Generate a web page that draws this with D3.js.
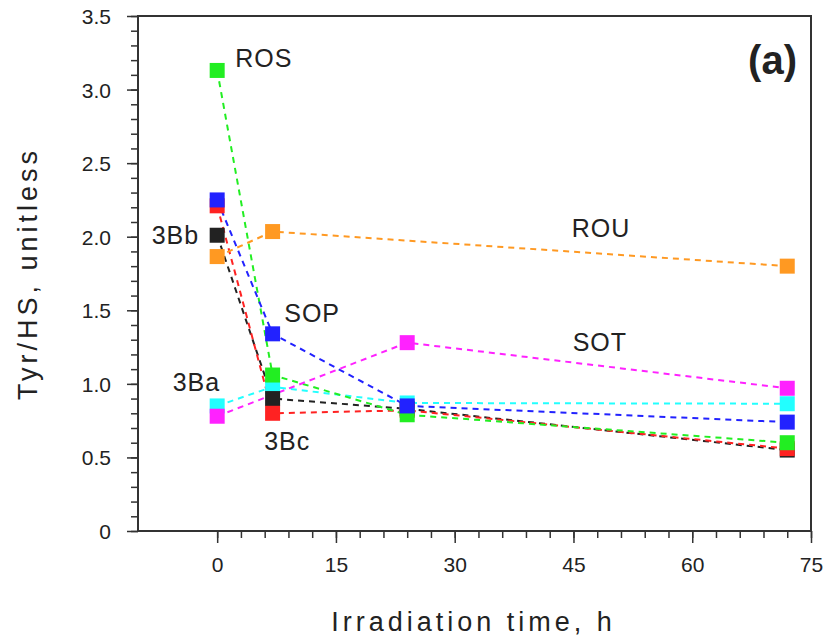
<!DOCTYPE html>
<html>
<head>
<meta charset="utf-8">
<script src="https://cdn.jsdelivr.net/npm/d3@7"></script>
<style>
  body { margin: 0; background: #fff; }
  svg { display: block; }
  text { font-family: "Liberation Sans", Arial, sans-serif; fill: #222; }
</style>
</head>
<body>
<svg id="chart" width="827" height="643"></svg>
<script>
// ---- data ----
const seriesNames = ["3Ba", "3Bb", "3Bc", "ROS", "SOP", "SOT", "ROU"];
const seriesColors = ["#22ffff", "#222222", "#ff2222", "#22ee22", "#2222ff", "#ff22ff", "#ff9922"];
const times_3Ba = [0, 7, 24, 72];
const vals_3Ba  = [0.85, 0.98, 0.87, 0.865];
const times_3Bb = [0, 7, 24, 72];
const vals_3Bb  = [2.01, 0.90, 0.83, 0.55];
const times_3Bc = [0, 7, 24, 72];
const vals_3Bc  = [2.21, 0.80, 0.82, 0.56];
const times_ROS = [0, 7, 24, 72];
const vals_ROS  = [3.13, 1.06, 0.79, 0.60];
const times_SOP = [0, 7, 24, 72];
const vals_SOP  = [2.25, 1.34, 0.85, 0.74];
const times_SOT = [0, 24, 72];
const vals_SOT  = [0.78, 1.28, 0.97];
const times_ROU = [0, 7, 72];
const vals_ROU  = [1.865, 2.035, 1.80];

const xTicks = [0, 15, 30, 45, 60, 75];
const yTicks = [0, 0.5, 1.0, 1.5, 2.0, 2.5, 3.0, 3.5];
const yTickLabels = ["0", "0.5", "1.0", "1.5", "2.0", "2.5", "3.0", "3.5"];

const labelTexts = ["ROS", "3Bb", "SOP", "3Ba", "3Bc", "ROU", "SOT"];
const labelX = [2.28, -2.28, 8.47, 0.38, 5.94, 44.78, 44.9];
const labelY = [3.215, 2.012, 1.482, 1.013, 0.612, 2.06, 1.285];
const labelAnchor = ["start", "end", "start", "end", "start", "start", "start"];

const xTitle = "Irradiation time, h";
const yTitle = "Tyr/HS, unitless";
const panelTag = "(a)";

// ---- build ----
const seriesTimes = [times_3Ba, times_3Bb, times_3Bc, times_ROS, times_SOP, times_SOT, times_ROU];
const seriesVals = [vals_3Ba, vals_3Bb, vals_3Bc, vals_ROS, vals_SOP, vals_SOT, vals_ROU];
const series = seriesNames.map((n, i) => ({
  name: n, color: seriesColors[i],
  pts: seriesTimes[i].map((t, j) => ({ t, v: seriesVals[i][j] }))
}));

const svg = d3.select("#chart");
const L = 138, R = 811, T = 16, B = 531;
const x = d3.scaleLinear().domain([-10, 75]).range([L, R]);
const y = d3.scaleLinear().domain([0, 3.5]).range([B, T]);
const axisColor = "#333";

// frame
svg.append("rect").attr("x", L).attr("y", T).attr("width", R - L).attr("height", B - T)
  .attr("fill", "none").attr("stroke", axisColor).attr("stroke-width", 2);

// x axis ticks
const xMinor = d3.range(0, 75.01, 3);
const xAxisMinor = d3.axisBottom(x).tickValues(xMinor).tickSize(7).tickFormat("");
const gxm = svg.append("g").attr("transform", `translate(0,${B})`).call(xAxisMinor);
const xAxis = d3.axisBottom(x).tickValues(xTicks).tickSize(12).tickPadding(10).tickFormat(d3.format("d"));
const gx = svg.append("g").attr("transform", `translate(0,${B})`).call(xAxis);
// y axis ticks
const yMinor = d3.range(0, 3.501, 0.1);
const yAxisMinor = d3.axisLeft(y).tickValues(yMinor).tickSize(7).tickFormat("");
const gym = svg.append("g").attr("transform", `translate(${L},0)`).call(yAxisMinor);
const yAxis = d3.axisLeft(y).tickValues(yTicks).tickSize(11).tickPadding(16)
  .tickFormat((d, i) => yTickLabels[i]);
const gy = svg.append("g").attr("transform", `translate(${L},0)`).call(yAxis);

[gxm, gx, gym, gy].forEach(g => {
  g.select(".domain").remove();
  g.selectAll("line").attr("stroke", axisColor).attr("stroke-width", 1.5);
  g.selectAll("text").attr("font-size", 21).attr("fill", "#222")
    .style("font-family", "'Liberation Sans', Arial, sans-serif");
});
gx.selectAll("text").attr("dy", "0.9em");
gy.selectAll("text").attr("dy", "0.36em");

// lines
const line = d3.line().x(d => x(d.t)).y(d => y(d.v));
svg.append("g").selectAll("path").data(series).join("path")
  .attr("d", d => line(d.pts))
  .attr("fill", "none").attr("stroke", d => d.color)
  .attr("stroke-width", 2).attr("stroke-dasharray", "6,5");

// markers
const S = 15;
series.forEach(s => {
  svg.append("g").selectAll("rect").data(s.pts).join("rect")
    .attr("x", d => x(d.t) - S / 2).attr("y", d => y(d.v) - S / 2)
    .attr("width", S).attr("height", S)
    .attr("fill", s.color);
});

// annotations
svg.append("g").selectAll("text").data(labelTexts).join("text")
  .attr("x", (d, i) => x(labelX[i])).attr("y", (d, i) => y(labelY[i]))
  .attr("text-anchor", (d, i) => labelAnchor[i])
  .attr("dominant-baseline", "central")
  .attr("font-size", 25).attr("letter-spacing", 1)
  .text(d => d);

svg.append("text").attr("x", R - 14).attr("y", 60)
  .attr("text-anchor", "end").attr("dominant-baseline", "central")
  .attr("font-size", 40).attr("font-weight", "bold")
  .style("font-family", "'Liberation Sans Narrow', 'Liberation Sans', Arial, sans-serif")
  .text(panelTag);

// axis titles
svg.append("text").attr("x", (L + R) / 2 - 1).attr("y", 622)
  .attr("text-anchor", "middle").attr("dominant-baseline", "central")
  .attr("font-size", 27).attr("letter-spacing", 4)
  .text(xTitle);
svg.append("text")
  .attr("transform", `translate(28,${(T + B) / 2}) rotate(-90)`)
  .attr("text-anchor", "middle").attr("dominant-baseline", "central")
  .attr("font-size", 27).attr("letter-spacing", 4)
  .text(yTitle);
</script>
</body>
</html>
